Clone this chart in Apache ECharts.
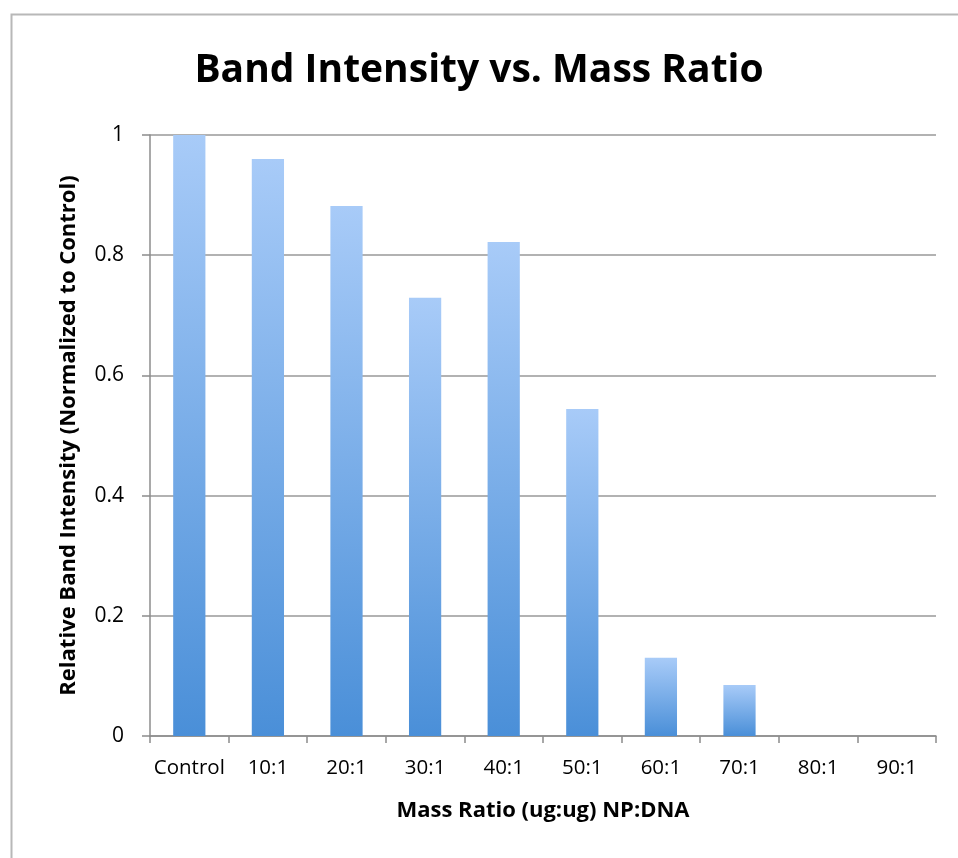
<!DOCTYPE html>
<html><head><meta charset="utf-8">
<script src="https://cdn.jsdelivr.net/npm/echarts@6/dist/echarts.min.js"></script>
<style>html,body{margin:0;padding:0;background:#fff}#c{width:958px;height:858px}</style>
</head><body><div id="c"></div>
<script>
const categories = ['Control','10:1','20:1','30:1','40:1','50:1','60:1','70:1','80:1','90:1'];
const values = [1.0, 0.96, 0.882, 0.729, 0.822, 0.544, 0.130, 0.085, 0, 0];
const yTicks = [0, 0.2, 0.4, 0.6, 0.8, 1];

const chart = echarts.init(document.getElementById('c'));
chart.setOption({
  animation: false,
  backgroundColor: '#fff',
  graphic: [{
    type: 'rect', left: 9, top: 12, shape: {width: 960, height: 860},
    style: {fill: 'none', stroke: '#b8b8b8', lineWidth: 2}
  }],
  title: {
    text: 'Band Intensity vs. Mass Ratio', left: 'center', top: 46,
    textStyle: {fontFamily: 'Open Sans', fontWeight: 'bold', fontSize: 39, color: '#000'}
  },
  grid: {left: 150, right: 22, top: 135, bottom: 122, containLabel: false},
  xAxis: {
    type: 'category', data: categories,
    name: 'Mass Ratio (ug:ug) NP:DNA', nameLocation: 'middle', nameGap: 64,
    nameTextStyle: {fontFamily: 'Open Sans', fontWeight: 'bold', fontSize: 22, color: '#000'},
    axisLine: {lineStyle: {color: '#8c8c8c', width: 1.5}},
    axisTick: {show: true, interval: 0, alignWithLabel: false, length: 7, lineStyle: {color: '#8c8c8c', width: 1.5}},
    axisLabel: {interval: 0, hideOverlap: false, fontFamily: 'Open Sans', fontSize: 20.5, color: '#000', margin: 22}
  },
  yAxis: {
    type: 'value', min: 0, max: 1, interval: 0.2,
    name: 'Relative Band Intensity (Normalized to Control)', nameLocation: 'middle', nameGap: 70,
    nameTextStyle: {fontFamily: 'Open Sans', fontWeight: 'bold', fontSize: 22, color: '#000'},
    axisLine: {show: true, lineStyle: {color: '#8c8c8c', width: 1.5}},
    axisTick: {show: true, length: 8, lineStyle: {color: '#8c8c8c', width: 1.5}},
    axisLabel: {fontFamily: 'Open Sans', fontSize: 21, color: '#000', margin: 26,
      formatter: v => yTicks.includes(+v.toFixed(1)) ? String(+v.toFixed(1)) : ''},
    splitLine: {lineStyle: {color: '#999', width: 1.5}}
  },
  series: [{
    type: 'bar', data: values, barWidth: '41%',
    itemStyle: {
      color: new echarts.graphic.LinearGradient(0, 0, 0, 1, [
        {offset: 0, color: '#a8cbf8'},
        {offset: 1, color: '#4a8fd8'}
      ])
    }
  }]
});
</script></body></html>
